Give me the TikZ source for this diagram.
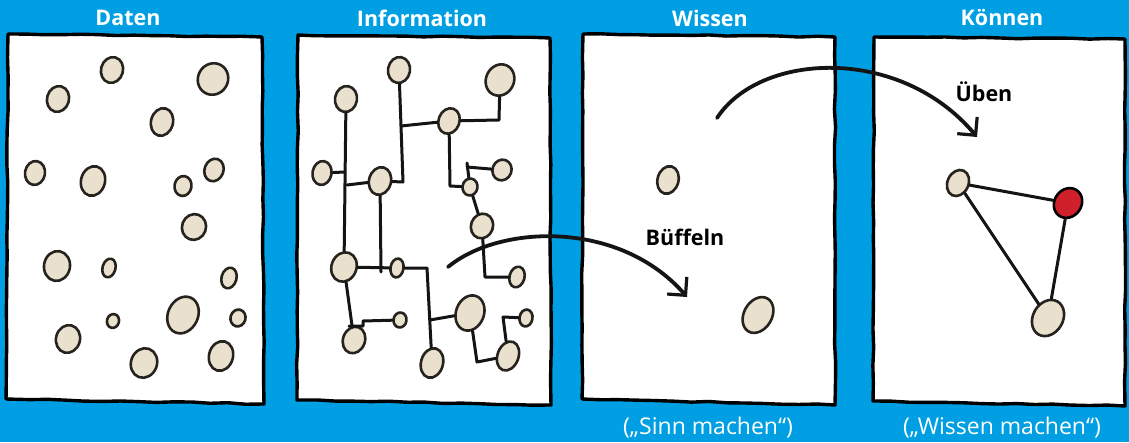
\documentclass[tikz,border=0pt]{standalone}
\usepackage{fontspec}
\setmainfont{Open Sans}
\usetikzlibrary{shapes.geometric,arrows.meta,decorations.pathmorphing}

\definecolor{sky}{HTML}{009FE3}
\definecolor{bean}{HTML}{E9E0CD}
\definecolor{ink}{HTML}{26231F}
\definecolor{berry}{HTML}{D0202C}

\tikzset{
  sheet/.style={fill=white, draw=black, line width=3.4pt, line join=round,
    decorate, decoration={random steps, segment length=18pt, amplitude=0.6pt}},
  dot/.style={ellipse, draw=ink, fill=bean, line width=2.6pt, inner sep=0pt},
  sz/.style 2 args={minimum width=#1pt, minimum height=#2pt},
  wire/.style={draw=black!92, line width=3pt, line cap=round, line join=round},
  title/.style={text=white, font=\bfseries\fontsize{21.5}{21.5}\selectfont},
  note/.style={text=white, font=\fontsize{23}{23}\selectfont},
  verb/.style={text=black, font=\bfseries\fontsize{21.5}{21.5}\selectfont},
  sweep/.style={draw=black!92, line width=3.8pt, line cap=round,
    -{Straight Barb[length=13pt, width=26pt, line width=3.2pt]}}
}

\begin{document}
\begin{tikzpicture}[x=1pt, y=-1pt]
\pgfmathsetseed{7}
\useasboundingbox (0,0) rectangle (1129,442);
\fill[sky] (0,0) rectangle (1129,442);

% four sheets
\path[sheet] (8,34) -- (262,37) -- (264,404) -- (6,399) -- cycle;
\path[sheet] (298,35) -- (550,38) -- (551,405) -- (297,400) -- cycle;
\path[sheet] (583,34) -- (835,37) -- (835,405) -- (582,399) -- cycle;
\path[sheet] (874,37) -- (1125,39) -- (1125,406) -- (873,401) -- cycle;

% headings and remarks
\node[title] (tDaten) at (128,18) {Daten};
\node[title] (tInfo)  at (422,18) {Information};
\node[title] (tWissen) at (710,18) {Wissen};
\node[title] (tKoennen) at (1002,18) {Können};
\node[note] (nSinn) at (708,428) {(„Sinn machen“)};
\node[note] (nMachen) at (1002,428) {(„Wissen machen“)};

% ---- Daten: loose beans
\node[dot, sz={22}{26}, rotate=-15] (d1) at (112,70) {};
\node[dot, sz={30}{32}, rotate=-30] (d2) at (213,79) {};
\node[dot, sz={22}{26}, rotate=-15] (d3) at (58,99) {};
\node[dot, sz={22}{28}, rotate=-15] (d4) at (162,122) {};
\node[dot, sz={20}{24}, rotate=-10] (d5) at (35,173) {};
\node[dot, sz={24}{30}, rotate=-15] (d6) at (93,181) {};
\node[dot, sz={17}{20}, rotate=-10] (d7) at (183,186) {};
\node[dot, sz={19}{23}, rotate=-20] (d8) at (214,170) {};
\node[dot, sz={24}{26}, rotate=-20] (d9) at (194,227) {};
\node[dot, sz={26}{30}, rotate=-10] (d10) at (57,266) {};
\node[dot, sz={13}{19}, rotate=-15] (d11) at (109,268) {};
\node[dot, sz={15}{21}, rotate=-15] (d12) at (229,278) {};
\node[dot, sz={30}{38}, rotate=-25] (d13) at (183,315) {};
\node[dot, sz={12}{14}, rotate=-15] (d14) at (113,321) {};
\node[dot, sz={15}{17}, rotate=-15] (d15) at (238,318) {};
\node[dot, sz={24}{28}, rotate=-15] (d16) at (68,339) {};
\node[dot, sz={26}{30}, rotate=-20] (d17) at (144,363) {};
\node[dot, sz={24}{30}, rotate=-15] (d18) at (221,356) {};

% ---- Information: beans joined by lines
\node[dot, sz={22}{26}, rotate=-10] (iA) at (399,70) {};
\node[dot, sz={28}{32}, rotate=-25] (iB) at (500,80) {};
\node[dot, sz={22}{26}, rotate=-10] (iC) at (346,99) {};
\node[dot, sz={21}{26}, rotate=-20] (iD) at (449,121) {};
\node[dot, sz={19}{24}, rotate=-10] (iE) at (322,173) {};
\node[dot, sz={22}{28}, rotate=-15] (iF) at (380,181) {};
\node[dot, sz={19}{21}, rotate=-20] (iG) at (502,170) {};
\node[dot, sz={15}{17}, rotate=-10] (iH) at (470,187) {};
\node[dot, sz={22}{25}, rotate=-20] (iI) at (482,226) {};
\node[dot, sz={25}{30}, rotate=-20] (iJ) at (344,267) {};
\node[dot, sz={13}{19}, rotate=-10] (iK) at (397,268) {};
\node[dot, sz={15}{21}, rotate=-15] (iL) at (517,277) {};
\node[dot, sz={28}{36}, rotate=-20] (iM) at (470,313) {};
\node[dot, sz={13}{15}, rotate=-10] (iN) at (400,320) {};
\node[dot, sz={13}{17}, rotate=-10] (iO) at (526,318) {};
\node[dot, sz={22}{27}, rotate=-20] (iP) at (354,340) {};
\node[dot, sz={22}{30}, rotate=-15] (iQ) at (432,363) {};
\node[dot, sz={21}{30}, rotate=-20] (iR) at (508,356) {};

\coordinate (a1) at (403,182);
\coordinate (a2) at (401,126);
\coordinate (dB) at (499,120);
\coordinate (dH) at (450,186);
\coordinate (h1) at (467,163);
\coordinate (h2) at (467,167);
\coordinate (iL1) at (485,277);
\coordinate (c1) at (345,172);
\coordinate (c2) at (347,185);
\coordinate (f1) at (381,272);
\coordinate (k1) at (427,268);
\coordinate (k2) at (430,320);
\coordinate (p1) at (349,326);
\coordinate (p2) at (363,326);
\coordinate (p3) at (363,321);
\coordinate (m1) at (477,362);
\coordinate (r1) at (503,317);

\draw[wire] (iA) -- (a1) -- (iF);
\draw[wire] (a2) -- (iD);
\draw[wire] (iD) -- (dB) -- (iB);
\draw[wire] (iD) -- (dH) -- (iH);
\draw[wire] (iH) -- (h1);
\draw[wire] (h2) -- (iG);
\draw[wire] (iH) -- (iI);
\draw[wire] (iI) -- (iL1) -- (iL);
\draw[wire] (iC) -- (iJ);
\draw[wire] (iE) -- (c1);
\draw[wire] (iF) -- (c2);
\draw[wire] (iF) -- (f1);
\draw[wire] (iJ) -- (iK);
\draw[wire] (iK) -- (k1) -- (iQ);
\draw[wire] (k2) -- (iM);
\draw[wire] (iJ) -- (iP);
\draw[wire] (p1) -- (p2) -- (p3) -- (iN);
\draw[wire] (iM) -- (m1) -- (iR);
\draw[wire] (iR) -- (r1) -- (iO);

% ---- Wissen: two beans
\node[dot, sz={21}{28}, rotate=-15] (w1) at (668,180) {};
\node[dot, sz={28}{38}, rotate=-30] (w2) at (758,315) {};

% ---- Können: a connected triangle with one red bean
\node[dot, sz={21}{27}, rotate=-25] (ka) at (958,183) {};
\node[dot, sz={27}{31}, rotate=-35, fill=berry, draw=black] (kb) at (1068,203) {};
\node[dot, sz={30}{38}, rotate=-30] (kc) at (1048,318) {};
\draw[wire] (ka) -- (kb);
\draw[wire] (kb) -- (kc);
\draw[wire] (kc) -- (ka);

% ---- the two sweeping arrows
\coordinate (bStart) at (448,267);
\coordinate (bEnd) at (687,297);
\coordinate (uStart) at (717,118);
\coordinate (uEnd) at (977,137);
\draw[sweep] (bStart) .. controls (500,224) and (620,220) .. (bEnd);
\draw[sweep] (uStart) .. controls (760,52) and (900,45) .. (uEnd);
\node[verb] (lBueffeln) at (685,237) {Büffeln};
\node[verb] (lUeben) at (984,92) {Üben};
\end{tikzpicture}
\end{document}
